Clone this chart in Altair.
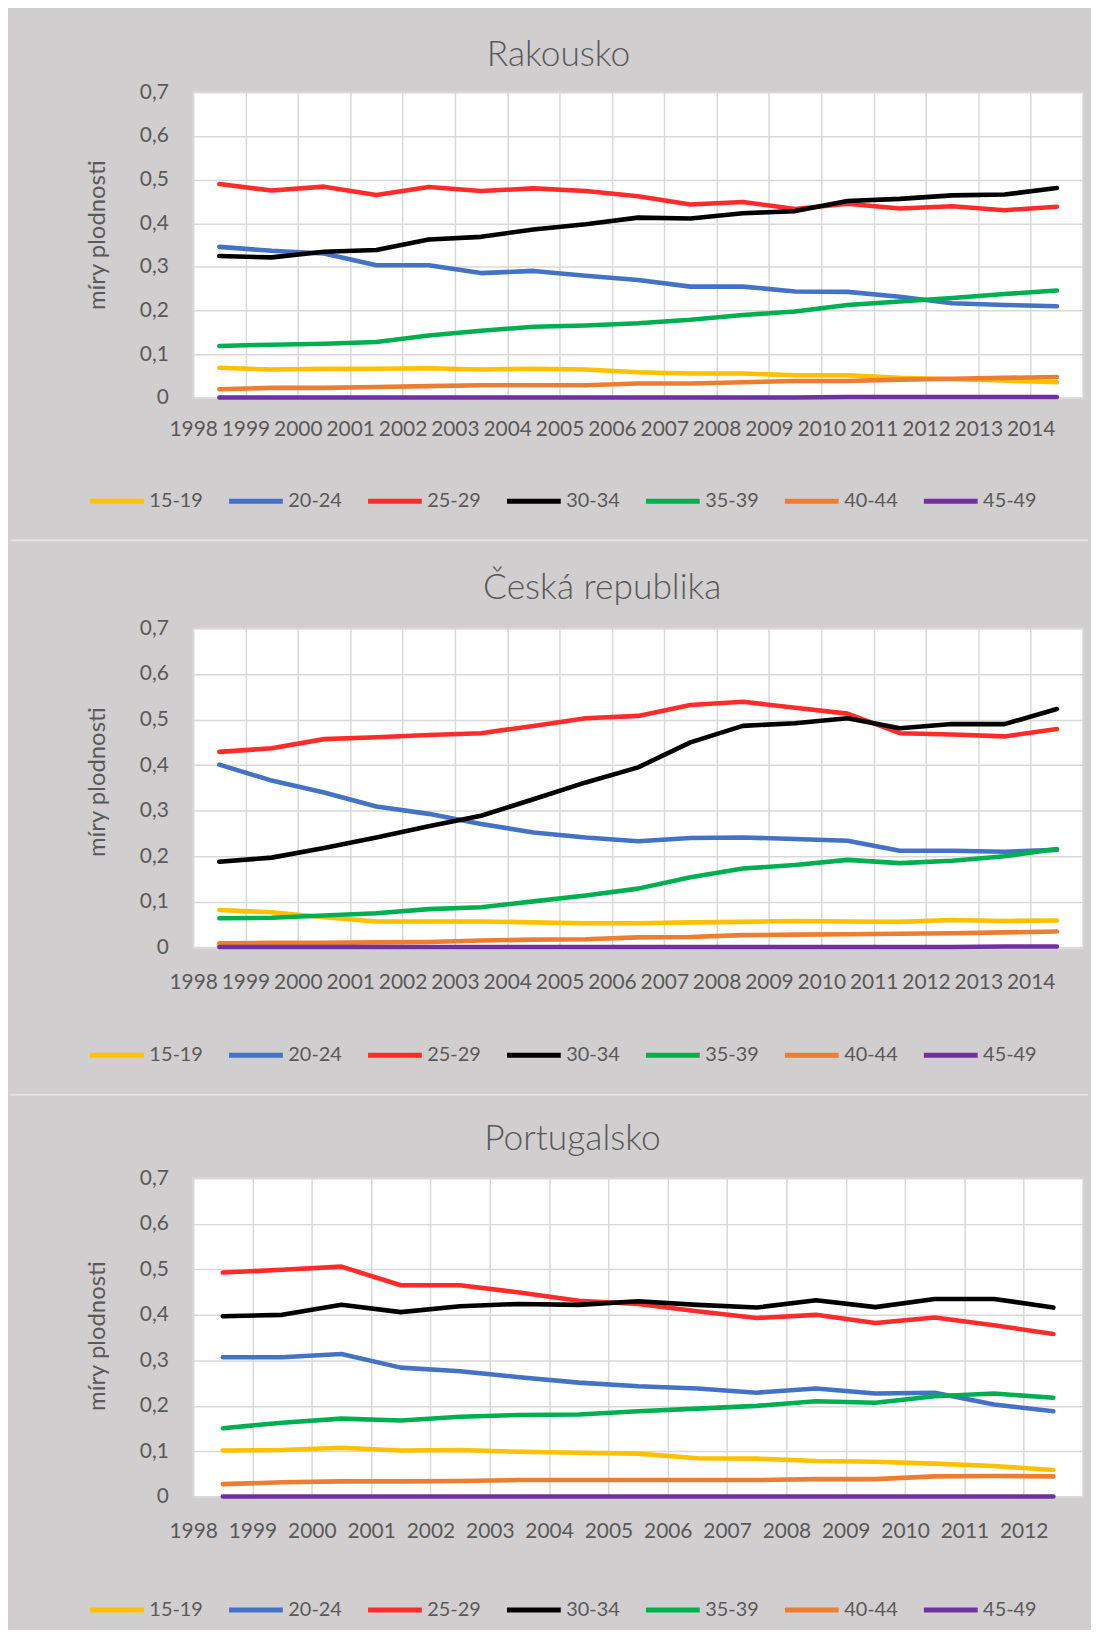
import altair as alt
import pandas as pd

groups = ["15-19", "20-24", "25-29", "30-34", "35-39", "40-44", "45-49"]
colors = ["#FFC000", "#4472C4", "#FF2B2B", "#000000", "#00B050", "#ED7D31", "#7030A0"]

# ---------------- Rakousko ----------------
years_at = [1998, 1999, 2000, 2001, 2002, 2003, 2004, 2005, 2006, 2007, 2008, 2009, 2010, 2011, 2012, 2013, 2014]
at_15_19 = [0.069, 0.065, 0.067, 0.067, 0.068, 0.065, 0.067, 0.065, 0.059, 0.056, 0.056, 0.052, 0.052, 0.046, 0.043, 0.040, 0.036]
at_20_24 = [0.346, 0.337, 0.331, 0.304, 0.304, 0.286, 0.291, 0.280, 0.270, 0.255, 0.255, 0.244, 0.243, 0.232, 0.217, 0.213, 0.210]
at_25_29 = [0.490, 0.475, 0.484, 0.465, 0.483, 0.474, 0.480, 0.474, 0.462, 0.443, 0.449, 0.433, 0.445, 0.434, 0.439, 0.430, 0.438]
at_30_34 = [0.325, 0.322, 0.335, 0.339, 0.363, 0.369, 0.386, 0.398, 0.413, 0.411, 0.423, 0.428, 0.451, 0.456, 0.464, 0.466, 0.481]
at_35_39 = [0.119, 0.122, 0.124, 0.128, 0.143, 0.154, 0.163, 0.166, 0.171, 0.179, 0.190, 0.198, 0.213, 0.221, 0.229, 0.238, 0.246]
at_40_44 = [0.020, 0.023, 0.023, 0.025, 0.027, 0.029, 0.029, 0.029, 0.033, 0.033, 0.036, 0.039, 0.039, 0.042, 0.044, 0.046, 0.048]
at_45_49 = [0.001, 0.001, 0.001, 0.001, 0.001, 0.001, 0.001, 0.001, 0.001, 0.001, 0.001, 0.001, 0.002, 0.002, 0.002, 0.002, 0.002]

# ---------------- Česká republika ----------------
years_cz = [1998, 1999, 2000, 2001, 2002, 2003, 2004, 2005, 2006, 2007, 2008, 2009, 2010, 2011, 2012, 2013, 2014]
cz_15_19 = [0.082, 0.077, 0.066, 0.057, 0.057, 0.057, 0.055, 0.053, 0.053, 0.055, 0.056, 0.058, 0.057, 0.056, 0.060, 0.058, 0.059]
cz_20_24 = [0.401, 0.366, 0.340, 0.309, 0.293, 0.271, 0.252, 0.241, 0.233, 0.240, 0.241, 0.238, 0.234, 0.212, 0.212, 0.210, 0.214]
cz_25_29 = [0.429, 0.437, 0.457, 0.461, 0.466, 0.470, 0.486, 0.503, 0.508, 0.532, 0.539, 0.526, 0.513, 0.470, 0.467, 0.463, 0.479]
cz_30_34 = [0.188, 0.197, 0.218, 0.241, 0.266, 0.289, 0.325, 0.362, 0.395, 0.450, 0.486, 0.492, 0.503, 0.481, 0.490, 0.490, 0.523]
cz_35_39 = [0.064, 0.065, 0.070, 0.075, 0.084, 0.088, 0.101, 0.114, 0.129, 0.154, 0.173, 0.181, 0.192, 0.185, 0.190, 0.200, 0.216]
cz_40_44 = [0.009, 0.010, 0.010, 0.011, 0.012, 0.015, 0.017, 0.018, 0.022, 0.023, 0.027, 0.028, 0.029, 0.030, 0.031, 0.033, 0.035]
cz_45_49 = [0.001, 0.001, 0.001, 0.001, 0.001, 0.001, 0.001, 0.001, 0.001, 0.001, 0.001, 0.001, 0.001, 0.001, 0.001, 0.002, 0.002]

# ---------------- Portugalsko ----------------
years_pt = [1998, 1999, 2000, 2001, 2002, 2003, 2004, 2005, 2006, 2007, 2008, 2009, 2010, 2011, 2012]
pt_15_19 = [0.102, 0.103, 0.108, 0.102, 0.103, 0.099, 0.097, 0.095, 0.085, 0.084, 0.079, 0.077, 0.073, 0.068, 0.059]
pt_20_24 = [0.307, 0.307, 0.314, 0.284, 0.276, 0.263, 0.251, 0.243, 0.238, 0.229, 0.238, 0.227, 0.229, 0.203, 0.188]
pt_25_29 = [0.493, 0.499, 0.506, 0.465, 0.465, 0.449, 0.431, 0.424, 0.408, 0.393, 0.400, 0.382, 0.394, 0.377, 0.358]
pt_30_34 = [0.397, 0.400, 0.422, 0.406, 0.419, 0.424, 0.422, 0.430, 0.422, 0.416, 0.432, 0.417, 0.435, 0.435, 0.416]
pt_35_39 = [0.151, 0.163, 0.172, 0.168, 0.176, 0.180, 0.181, 0.188, 0.194, 0.200, 0.210, 0.207, 0.221, 0.227, 0.218]
pt_40_44 = [0.028, 0.032, 0.034, 0.034, 0.035, 0.037, 0.037, 0.037, 0.037, 0.037, 0.039, 0.039, 0.045, 0.046, 0.045]
pt_45_49 = [0.001, 0.001, 0.001, 0.001, 0.001, 0.001, 0.001, 0.001, 0.001, 0.001, 0.001, 0.001, 0.001, 0.001, 0.001]

y_ticks = [0, 0.1, 0.2, 0.3, 0.4, 0.5, 0.6, 0.7]

TEXT = "#595959"
FONT = "Lato"
GRID = "#D9D9D9"
BG = "#D0CECE"


def long_df(years, series):
    rows = []
    for g, vals in zip(groups, series):
        for yr, v in zip(years, vals):
            rows.append({"rok": yr, "skupina": g, "hodnota": v})
    return pd.DataFrame(rows)


df_at = long_df(years_at, [at_15_19, at_20_24, at_25_29, at_30_34, at_35_39, at_40_44, at_45_49])
df_cz = long_df(years_cz, [cz_15_19, cz_20_24, cz_25_29, cz_30_34, cz_35_39, cz_40_44, cz_45_49])
df_pt = long_df(years_pt, [pt_15_19, pt_20_24, pt_25_29, pt_30_34, pt_35_39, pt_40_44, pt_45_49])

deco_df = pd.DataFrame({"k": [0]})
W = 894


def panel(df, years, height, title, title_dx, title_offset, ytitle_y, legend_y, xlab_pad, deco):
    lines = (
        alt.Chart(df)
        .transform_calculate(xpos="datum.rok + 0.5")
        .mark_line(strokeWidth=4.6, strokeCap="round", strokeJoin="round")
        .encode(
            x=alt.X(
                "xpos:Q",
                title=None,
                scale=alt.Scale(domain=[years[0], years[-1] + 1], nice=False, zero=False),
                axis=alt.Axis(
                    values=years, format="d", grid=True, ticks=False, tickSize=0, domain=False,
                    labelPadding=xlab_pad, labelFontSize=21, labelFont=FONT, labelColor=TEXT,
                    gridColor=GRID, gridWidth=1.5, labelFlush=False, labelOverlap=False,
                ),
            ),
            y=alt.Y(
                "hodnota:Q",
                scale=alt.Scale(domain=[0, 0.7], nice=False),
                axis=alt.Axis(
                    values=y_ticks,
                    labelExpr="datum.value == 0 ? '0' : replace(format(datum.value, '.1f'), '.', ',')",
                    grid=True, ticks=False, tickSize=0, domain=False,
                    labelPadding=25, labelFontSize=21, labelFont=FONT, labelColor=TEXT,
                    gridColor=GRID, gridWidth=1.5,
                    title="míry plodnosti", titleFont=FONT, titleFontSize=24, titleFontWeight="normal",
                    titleColor=TEXT, titleX=-96, titleY=ytitle_y, titleAngle=270,
                    titleAlign="center", titleBaseline="middle",
                ),
            ),
            color=alt.Color(
                "skupina:N",
                scale=alt.Scale(domain=groups, range=colors),
                legend=alt.Legend(
                    title=None, orient="none", legendX=-106, legendY=legend_y,
                    direction="horizontal", columns=7, symbolType="stroke",
                    symbolSize=2916, symbolStrokeWidth=5, labelFontSize=20,
                    labelFont=FONT, labelColor=TEXT, labelOffset=3, columnPadding=15.6,
                    padding=0,
                ),
            ),
        )
    )
    layers = [lines]
    for kind, yv in deco:
        color = "#E2E2E2" if kind == "sep" else BG
        layers.append(
            alt.Chart(deco_df)
            .mark_rule(color=color, strokeWidth=2)
            .encode(x=alt.value(-183.7), x2=alt.value(899.3), y=alt.value(yv))
        )
    return alt.layer(*layers).properties(
        width=W,
        height=height,
        title=alt.Title(
            title, fontSize=35.5, font=FONT, fontWeight=300, color=TEXT,
            anchor="middle", frame="group", dx=title_dx, offset=title_offset,
            baseline="middle",
        ),
    )


p1 = panel(df_at, years_at, 307, "Rakousko", -80, -9, 143, 381, 21, [("sep", 450)])
p2 = panel(df_cz, years_cz, 320.5, "Česká republika", -36, -5.6, 154, 399, 24, [("sep", 468.5)])
p3 = panel(df_pt, years_pt, 320, "Portugalsko", -66, -6.7, 158, 404, 24, [("anchor", 448)])

chart = (
    alt.vconcat(p1, p2, p3, spacing=231.5, bounds="flush")
    .resolve_scale(color="independent", x="independent", y="independent")
    .resolve_legend(color="independent")
    .configure(background=BG, padding={"left": 0, "top": 25, "right": 0, "bottom": 0})
    .configure_view(fill="white", stroke=GRID, strokeWidth=1.5)
)

chart.save("out.html", embed_options={"renderer": "svg", "actions": False})
